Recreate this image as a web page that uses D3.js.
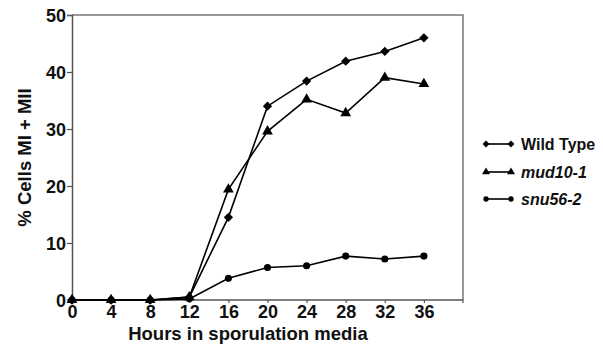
<!DOCTYPE html>
<html>
<head>
<meta charset="utf-8">
<script src="https://cdn.jsdelivr.net/npm/d3@7"></script>
<style>
  body { margin: 0; background: #fff; }
  svg { display: block; font-family: Arial, "Liberation Sans", sans-serif; }
</style>
</head>
<body>
<div id="chart"></div>
<script>
const hours = [0, 4, 8, 12, 16, 20, 24, 28, 32, 36];
const wildType = [0, 0, 0, 0.5, 14.5, 34, 38.4, 41.9, 43.6, 46];
const mud10 = [0, 0, 0, 0.5, 19.4, 29.6, 35.2, 32.8, 39, 37.9];
const snu56 = [0, 0, 0, 0.2, 3.8, 5.7, 6, 7.7, 7.2, 7.7];
const yTicks = [0, 10, 20, 30, 40, 50];
const seriesNames = ['Wild Type', 'mud10-1', 'snu56-2'];

const width = 603, height = 348;
const margin = { top: 15, right: 140, bottom: 48, left: 72 };

const svg = d3.select('#chart').append('svg')
  .attr('width', width)
  .attr('height', height);

const x = d3.scaleLinear().domain([0, 40]).range([margin.left, width - margin.right]);
const y = d3.scaleLinear().domain([0, 50]).range([height - margin.bottom, margin.top]);

// frame (top and right)
svg.append('path')
  .attr('d', `M${x(0)},${y(50)}H${x(40)}V${y(0) + 3}`)
  .attr('fill', 'none')
  .attr('stroke', '#777')
  .attr('stroke-width', 1.5);

// axes
const yAxis = svg.append('g')
  .attr('transform', `translate(${x(0)},0)`)
  .call(d3.axisLeft(y).tickValues(yTicks).tickSize(5).tickPadding(1));
const xAxis = svg.append('g')
  .attr('transform', `translate(0,${y(0)})`)
  .call(d3.axisBottom(x).tickValues(hours).tickSize(3).tickPadding(2));

[yAxis, xAxis].forEach(a => {
  a.select('.domain').attr('stroke', '#555').attr('stroke-width', 1.5);
  a.selectAll('.tick line').attr('stroke', '#555').attr('stroke-width', 1.2);
  a.selectAll('text')
    .attr('fill', '#111')
    .style('font-size', '18px')
    .style('font-weight', 'bold')
    .style('font-family', 'Arial, "Liberation Sans", sans-serif');
});
xAxis.select('.domain').attr('d', `M${x(0)},0H${x(40)}`);
yAxis.selectAll('text').attr('dy', '0.36em');

// axis titles
svg.append('text')
  .attr('x', x(18))
  .attr('y', 340)
  .attr('text-anchor', 'middle')
  .style('font-size', '18.5px')
  .style('font-weight', 'bold')
  .attr('fill', '#111')
  .text('Hours in sporulation media');

svg.append('text')
  .attr('transform', `translate(31,${y(25)}) rotate(-90)`)
  .attr('text-anchor', 'middle')
  .style('font-size', '18.5px')
  .style('font-weight', 'bold')
  .attr('fill', '#111')
  .text('% Cells MI + MII');

const symbols = [d3.symbolDiamond2, d3.symbolTriangle, d3.symbolCircle];
const sizes = [55, 50, 40];
const seriesData = [wildType, mud10, snu56];

const line = d3.line()
  .x((d, i) => x(hours[i]))
  .y(d => y(d));

seriesData.forEach((vals, s) => {
  svg.append('path')
    .datum(vals)
    .attr('d', line)
    .attr('fill', 'none')
    .attr('stroke', '#000')
    .attr('stroke-width', 1.6);
  svg.selectAll(null)
    .data(vals)
    .enter().append('path')
    .attr('transform', (d, i) => `translate(${x(hours[i])},${y(d)})`)
    .attr('d', d3.symbol().type(symbols[s]).size(sizes[s]))
    .attr('fill', '#000');
});

// legend
const legendY = [144, 172, 199];
seriesNames.forEach((name, s) => {
  const g = svg.append('g').attr('transform', `translate(486,${legendY[s]})`);
  g.append('line').attr('x1', 0).attr('x2', 25).attr('stroke', '#000').attr('stroke-width', 1.6);
  [0, 25].forEach(px => {
    g.append('path')
      .attr('transform', `translate(${px},0)`)
      .attr('d', d3.symbol().type(symbols[s]).size(sizes[s] * 0.55))
      .attr('fill', '#000');
  });
  g.append('text')
    .attr('x', 35)
    .attr('y', 6)
    .style('font-size', '16px')
    .style('font-weight', 'bold')
    .style('font-style', s === 0 ? 'normal' : 'italic')
    .attr('fill', '#111')
    .text(name);
});
</script>
</body>
</html>
